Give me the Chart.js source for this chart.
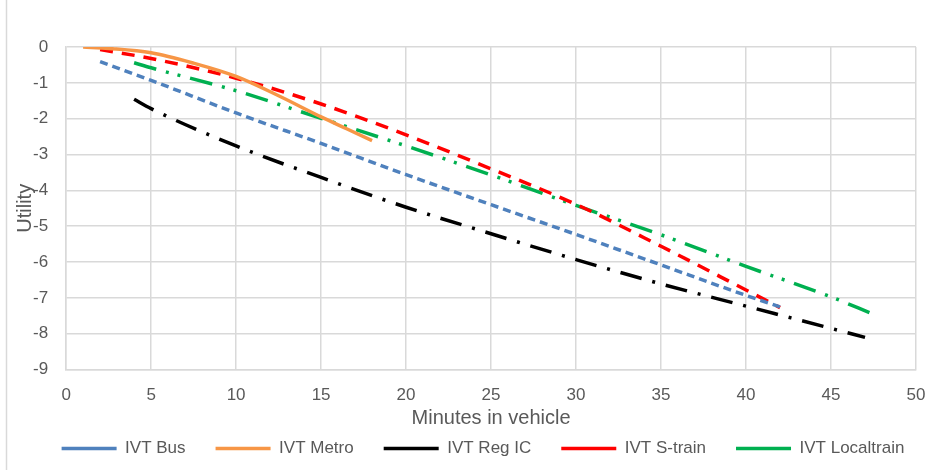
<!DOCTYPE html>
<html>
<head>
<meta charset="utf-8">
<title>Utility vs minutes in vehicle</title>
<script src="https://cdn.jsdelivr.net/npm/chart.js@4.4.1/dist/chart.umd.min.js"></script>
<style>
  body { margin: 0; background: #fff; }
  #wrap { width: 928px; height: 470px; position: relative; }
</style>
</head>
<body>
<div id="wrap"><canvas id="ivtChart"></canvas></div>
<script>
// ==================== DATA ====================
const busMinutes = [2, 5, 10, 15, 20, 25, 30, 35, 40, 42];
const busUtility = [-0.41, -0.93, -1.84, -2.69, -3.56, -4.40, -5.23, -6.08, -6.93, -7.25];

const metroMinutes = [1, 2.5, 5, 7.5, 10, 12.5, 15, 16.5, 18];
const metroUtility = [0, -0.04, -0.16, -0.45, -0.82, -1.36, -1.95, -2.28, -2.61];

const regMinutes = [4, 5, 10, 15, 20, 25, 30, 35, 40, 45, 47];
const regUtility = [-1.46, -1.72, -2.76, -3.64, -4.47, -5.21, -5.93, -6.61, -7.23, -7.85, -8.1];

const strainMinutes = [2, 5, 10, 15, 20, 25, 30, 35, 40, 42];
const strainUtility = [-0.07, -0.32, -0.87, -1.59, -2.45, -3.40, -4.39, -5.56, -6.78, -7.27];

const localMinutes = [4, 5, 10, 15, 20, 25, 30, 35, 40, 45, 47.4];
const localUtility = [-0.44, -0.58, -1.22, -1.99, -2.76, -3.57, -4.42, -5.24, -6.12, -6.97, -7.44];

const xTicks = [0, 5, 10, 15, 20, 25, 30, 35, 40, 45, 50];
const yTicks = [0, -1, -2, -3, -4, -5, -6, -7, -8, -9];

// ==================== HELPERS ====================
function toPoints(xs, ys) {
  return xs.map((x, i) => ({ x: x, y: ys[i] }));
}

const textColor = "#595959";
const gridColor = "#d9d9d9";
const fontFamily = "'Liberation Sans', Arial, sans-serif";

// white background + light frame line on the left like the original chart area
const framePlugin = {
  id: "frame",
  beforeDraw(chart) {
    const ctx = chart.ctx;
    ctx.save();
    ctx.fillStyle = "#fff";
    ctx.fillRect(0, 0, chart.width, chart.height);
    ctx.strokeStyle = gridColor;
    ctx.lineWidth = 1.5;
    ctx.beginPath();
    ctx.moveTo(6.5, 0);
    ctx.lineTo(6.5, chart.height);
    ctx.stroke();
    ctx.restore();
  }
};

// legend in the original sits a bit right of centre
const legendShift = {
  id: "legendShift",
  afterLayout(chart) {
    chart.legend.left += 25;
    chart.legend.right += 25;
  }
};

// ==================== CHART ====================
const ctx = document.getElementById("ivtChart").getContext("2d");
new Chart(ctx, {
  type: "line",
  data: {
    datasets: [
      {
        label: "IVT Bus",
        data: toPoints(busMinutes, busUtility),
        borderColor: "#4f81bd",
        borderDash: [8, 5]
      },
      {
        label: "IVT Metro",
        data: toPoints(metroMinutes, metroUtility),
        borderColor: "#f79646",
        borderDash: []
      },
      {
        label: "IVT Reg IC",
        data: toPoints(regMinutes, regUtility),
        borderColor: "#000000",
        borderDash: [22, 11, 3, 11]
      },
      {
        label: "IVT S-train",
        data: toPoints(strainMinutes, strainUtility),
        borderColor: "#ff0000",
        borderDash: [13, 9]
      },
      {
        label: "IVT Localtrain",
        data: toPoints(localMinutes, localUtility),
        borderColor: "#00b050",
        borderDash: [23, 10, 3, 9, 3, 10]
      }
    ]
  },
  options: {
    responsive: true,
    maintainAspectRatio: false,
    animation: false,
    datasets: {
      line: {
        borderWidth: 3.5,
        pointRadius: 0,
        fill: false,
        cubicInterpolationMode: "monotone"
      }
    },
    layout: {
      padding: { left: 0, right: 12, top: 47, bottom: 3 }
    },
    plugins: {
      tooltip: { enabled: false },
      legend: {
        position: "bottom",
        labels: {
          usePointStyle: true,
          pointStyle: "line",
          pointStyleWidth: 55,
          padding: 30,
          color: textColor,
          font: { family: fontFamily, size: 17 }
        }
      }
    },
    scales: {
      x: {
        type: "linear",
        min: 0,
        max: 50,
        afterBuildTicks: axis => { axis.ticks = xTicks.map(v => ({ value: v })); },
        // the tick padding should not push the plot away from the right edge
        afterFit: axis => { axis.paddingRight = 10; },
        grid: { color: gridColor, lineWidth: 1.5, drawTicks: false },
        border: { color: gridColor, width: 1.5 },
        ticks: {
          color: textColor,
          padding: 16,
          maxRotation: 0,
          font: { family: fontFamily, size: 17 }
        },
        title: {
          display: true,
          text: "Minutes in vehicle",
          color: textColor,
          padding: { top: -16, bottom: -20 },
          font: { family: fontFamily, size: 20 }
        }
      },
      y: {
        min: -9,
        max: 0,
        afterBuildTicks: axis => { axis.ticks = yTicks.map(v => ({ value: v })); },
        grid: { color: gridColor, lineWidth: 1.5, drawTicks: false },
        border: { color: gridColor, width: 1.5 },
        ticks: {
          color: textColor,
          padding: 18,
          font: { family: fontFamily, size: 17 }
        },
        title: {
          display: true,
          text: "Utility",
          color: textColor,
          padding: { top: 13, bottom: -22 },
          font: { family: fontFamily, size: 20 }
        }
      }
    }
  },
  plugins: [framePlugin, legendShift]
});
</script>
</body>
</html>
